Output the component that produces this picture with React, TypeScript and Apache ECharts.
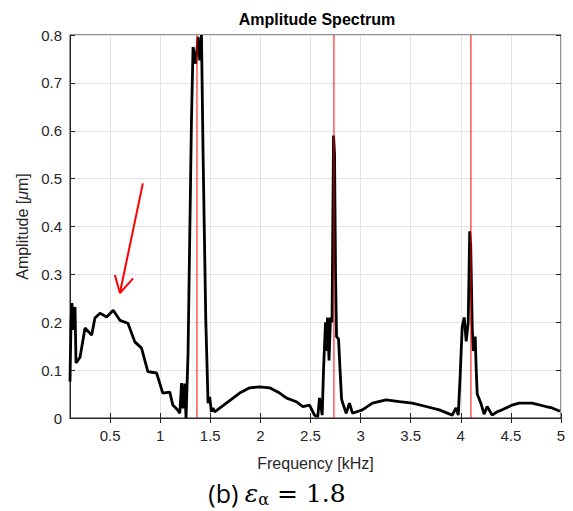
import React, { useEffect, useRef } from "react";
import * as echarts from "echarts";

const freqKHz = [
  0.1, 0.11, 0.12, 0.13, 0.15, 0.16, 0.2, 0.25, 0.316, 0.349, 0.399, 0.466, 0.531, 0.598, 0.678, 0.747,
  0.814, 0.877, 0.964, 1.026, 1.096, 1.126, 1.17, 1.196, 1.213, 1.228, 1.245, 1.258, 1.278, 1.312, 1.328,
  1.355, 1.378, 1.395, 1.412, 1.428, 1.455, 1.478, 1.494, 1.511, 1.527, 1.544, 1.793, 1.893, 1.992, 2.092,
  2.192, 2.258, 2.358, 2.424, 2.49, 2.54, 2.573, 2.59, 2.617, 2.63, 2.65, 2.66, 2.67, 2.685, 2.7, 2.715,
  2.73, 2.74, 2.75, 2.76, 2.78, 2.795, 2.81, 2.822, 2.856, 2.889, 2.919, 3.018, 3.118, 3.254, 3.387,
  3.516, 3.653, 3.785, 3.915, 3.952, 3.975, 3.994, 4.014, 4.034, 4.054, 4.074, 4.089, 4.099, 4.114,
  4.124, 4.144, 4.154, 4.164, 4.2, 4.233, 4.263, 4.313, 4.363, 4.413, 4.483, 4.512, 4.582, 4.711, 4.848,
  4.911, 4.99,
];
const amplitudeUm = [
  0.076, 0.2, 0.24, 0.184, 0.232, 0.115, 0.127, 0.188, 0.173, 0.209, 0.219, 0.211, 0.225, 0.204, 0.198,
  0.159, 0.146, 0.097, 0.094, 0.052, 0.054, 0.027, 0.018, 0.01, 0.073, 0.02, 0.072, 0.0, 0.135, 0.62,
  0.775, 0.74, 0.796, 0.747, 0.8, 0.553, 0.205, 0.031, 0.044, 0.013, 0.021, 0.013, 0.052, 0.063, 0.065,
  0.063, 0.052, 0.042, 0.034, 0.024, 0.027, 0.006, 0.003, 0.042, 0.006, 0.1, 0.2, 0.14, 0.21, 0.12, 0.21,
  0.2, 0.59, 0.55, 0.3, 0.17, 0.165, 0.1, 0.04, 0.031, 0.01, 0.031, 0.01, 0.017, 0.031, 0.038, 0.034,
  0.031, 0.024, 0.017, 0.006, 0.021, 0.006, 0.09, 0.19, 0.21, 0.16, 0.2, 0.39, 0.36, 0.19, 0.14, 0.17,
  0.1, 0.05, 0.031, 0.008, 0.024, 0.006, 0.013, 0.017, 0.024, 0.027, 0.031, 0.031, 0.024, 0.021, 0.014,
];
const harmonicsKHz = [1.367, 2.734, 4.101];
const xTickValues = [0.5, 1, 1.5, 2, 2.5, 3, 3.5, 4, 4.5, 5];
const arrowShaft = [[0.827, 0.49], [0.598, 0.261]];
const arrowHead = [[0.548, 0.2985], [0.598, 0.261], [0.73, 0.2917]];

const FONT = "'Liberation Sans', Arial, Helvetica, sans-serif";
const AX = "#262626";

export default function App() {
  const ref = useRef<HTMLDivElement>(null);
  useEffect(() => {
    if (!ref.current) return;
    const chart = echarts.init(ref.current, null, { renderer: "svg" });
    const data = freqKHz.map((f, i) => [f, amplitudeUm[i]]);
    const hiddenAxisCommon = {
      axisLine: { show: false },
      axisLabel: { show: false },
      splitLine: { show: false },
    };
    const harmonicSeries = harmonicsKHz.map((h) => ({
      type: "line",
      data: [[h, 0], [h, 0.8]],
      showSymbol: false,
      symbol: "none",
      silent: true,
      lineStyle: { color: "#ff0000", width: 1 },
      z: 4,
    }));
    chart.setOption({
      animation: false,
      backgroundColor: "#ffffff",
      grid: {
        left: 70,
        right: 12,
        top: 35,
        bottom: 93,
        show: true,
        borderColor: AX,
        borderWidth: 1,
        backgroundColor: "transparent",
      },
      xAxis: [
        {
          type: "value",
          min: 0.1,
          max: 5,
          name: "Frequency [kHz]",
          nameLocation: "middle",
          nameGap: 37,
          nameTextStyle: { fontFamily: FONT, fontSize: 16, color: AX },
          axisLine: { show: true, lineStyle: { color: AX, width: 1 } },
          axisTick: { show: true, inside: true, length: 5, lineStyle: { color: AX }, customValues: xTickValues },
          axisLabel: {
            fontFamily: FONT,
            fontSize: 15,
            color: AX,
            margin: 10,
            customValues: xTickValues,
            formatter: (v: number) => String(v),
          },
          splitLine: { show: true, lineStyle: { color: "#e3e3e3", width: 1 } },
        },
        {
          type: "value",
          min: 0.1,
          max: 5,
          position: "top",
          ...hiddenAxisCommon,
          axisTick: { show: true, inside: true, length: 5, lineStyle: { color: AX }, customValues: xTickValues },
        },
      ],
      yAxis: [
        {
          type: "value",
          min: 0,
          max: 0.8,
          interval: 0.1,
          name: "{a|Amplitude [}{b|μ}{a|m]}",
          nameLocation: "middle",
          nameGap: 40,
          nameTextStyle: {
            rich: {
              a: { fontFamily: FONT, fontSize: 16, color: AX },
              b: { fontFamily: FONT, fontSize: 16, color: AX, fontStyle: "italic" },
            },
          },
          axisLine: { show: true, lineStyle: { color: AX, width: 1 } },
          axisTick: { show: true, inside: true, length: 5, lineStyle: { color: AX } },
          axisLabel: {
            fontFamily: FONT,
            fontSize: 15,
            color: AX,
            margin: 8,
            formatter: (v: number) => String(Math.round(v * 10) / 10),
          },
          splitLine: { show: true, lineStyle: { color: "#e3e3e3", width: 1 } },
        },
        {
          type: "value",
          min: 0,
          max: 0.8,
          interval: 0.1,
          position: "right",
          ...hiddenAxisCommon,
          axisTick: { show: true, inside: true, length: 5, lineStyle: { color: AX } },
        },
      ],
      series: [
        {
          type: "line",
          data,
          showSymbol: false,
          symbol: "none",
          lineStyle: { color: "#000000", width: 2.8 },
          clip: true,
          z: 3,
        },
        ...harmonicSeries,
        {
          type: "line",
          data: arrowShaft,
          showSymbol: false,
          symbol: "none",
          lineStyle: { color: "#ff0000", width: 2 },
          z: 5,
        },
        {
          type: "line",
          data: arrowHead,
          showSymbol: false,
          symbol: "none",
          lineStyle: { color: "#ff0000", width: 2 },
          z: 5,
        },
      ],
      graphic: [
        {
          type: "text",
          x: 317,
          y: 19,
          style: {
            text: "Amplitude Spectrum",
            font: `bold 16px ${FONT}`,
            fill: "#000000",
            textAlign: "center",
            textVerticalAlign: "middle",
          },
        },
        {
          type: "text",
          x: 277,
          y: 493,
          style: {
            text: "{n|(b) }{e|ε}{s|α}{m| = 1.8}",
            textAlign: "center",
            textVerticalAlign: "middle",
            rich: {
              n: { fontFamily: "'Open Sans', 'Noto Sans', sans-serif", fontSize: 25, fill: "#000000" },
              e: { fontFamily: "'DejaVu Serif', serif", fontStyle: "italic", fontSize: 25, fill: "#000000" },
              s: { fontFamily: "'DejaVu Serif', serif", fontSize: 16, fill: "#000000", padding: [12, 0, 0, 0] },
              m: { fontFamily: "'DejaVu Serif', serif", fontSize: 25, fill: "#000000" },
            },
          },
        },
      ],
    });
    return () => chart.dispose();
  }, []);
  return (
    <div
      ref={ref}
      style={{ position: "absolute", left: 0, top: 0, width: 573, height: 511, background: "#fff" }}
    />
  );
}
